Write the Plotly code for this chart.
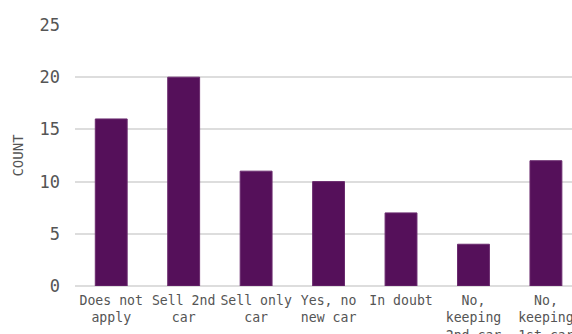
import plotly.graph_objects as go

categories = [
    "Does not<br>apply",
    "Sell 2nd<br>car",
    "Sell only<br>car",
    "Yes, no<br>new car",
    "In doubt",
    "No,<br>keeping<br>2nd car",
    "No,<br>keeping<br>1st car",
]
counts = [16, 20, 11, 10, 7, 4, 12]
y_ticks = [0, 5, 10, 15, 20, 25]

mono = "DejaVu Sans Mono"

fig = go.Figure(
    go.Bar(
        x=list(range(len(categories))),
        y=counts,
        marker=dict(color="#55105A", line=dict(color="#6a2a6e", width=1)),
        width=0.44,
    )
)

fig.update_layout(
    width=572,
    height=334,
    margin=dict(l=75, r=0, t=25, b=48),
    paper_bgcolor="white",
    plot_bgcolor="white",
    showlegend=False,
    font=dict(family=mono, color="#555555"),
)

fig.update_xaxes(
    tickmode="array",
    tickvals=list(range(len(categories))),
    ticktext=categories,
    range=[-0.5, 6.36],
    tickfont=dict(family=mono, size=13.2, color="#555555"),
    showgrid=False,
    showline=False,
    zeroline=False,
    ticks="",
    tickangle=0,
    automargin=False,
    ticklabeloverflow="allow",
    ticklabelstandoff=5,
)

fig.update_yaxes(
    range=[0, 25],
    tickvals=y_ticks,
    tickfont=dict(family=mono, size=17, color="#555555"),
    showgrid=True,
    gridcolor="#dddddd",
    gridwidth=2,
    zeroline=True,
    zerolinecolor="#dddddd",
    zerolinewidth=2,
    showline=False,
    ticks="",
    ticklabelstandoff=14,
    automargin=False,
    title=dict(text="COUNT", font=dict(family=mono, size=14, color="#555555"), standoff=12),
)

fig.write_html("out.html")
